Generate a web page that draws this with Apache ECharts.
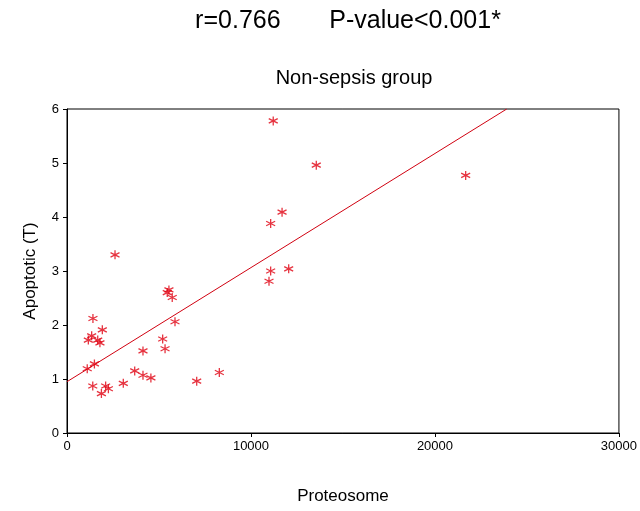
<!DOCTYPE html>
<html>
<head>
<meta charset="utf-8">
<script src="https://cdn.jsdelivr.net/npm/echarts@6/dist/echarts.min.js"></script>
<style>
  html, body { margin: 0; padding: 0; background: #fff; }
  #chart { width: 640px; height: 511px; }
</style>
</head>
<body>
<div id="chart"></div>
<script>
// 数据：从图中读取
var proteosome = [2610, 11070, 10980, 12050, 5540, 5450, 5720, 5870, 1410, 1920,
  1340, 1160, 1670, 1790, 5200, 5330, 4130, 1490, 1100, 3680,
  4130, 4560, 8280, 7050, 3060, 1400, 2100, 2250, 1870, 11210,
  13550, 11690, 11070, 21670];
var apoptotic = [3.30, 3.00, 2.81, 3.04, 2.65, 2.60, 2.51, 2.06, 2.12, 1.91,
  1.80, 1.72, 1.72, 1.67, 1.74, 1.56, 1.52, 1.28, 1.19, 1.15,
  1.07, 1.02, 1.12, 0.96, 0.92, 0.87, 0.87, 0.82, 0.73, 5.78,
  4.96, 4.09, 3.88, 4.77];
// 回归线两端
var fitX = [0, 23900];
var fitY = [0.95, 6];
var xTicks = [0, 10000, 20000, 30000];
var yTicks = [0, 1, 2, 3, 4, 5, 6];

var font = 'Liberation Sans, Arial, sans-serif';
var red = '#e00010';
var asterisk = 'path://M5,0L5,10M0.7,2.5L9.3,7.5M0.7,7.5L9.3,2.5';

var points = proteosome.map(function (v, i) { return [v, apoptotic[i]]; });
var line = fitX.map(function (v, i) { return [v, fitY[i]]; });

var myChart = echarts.init(document.getElementById('chart'));
var axisText = { color: '#000', fontFamily: font, fontSize: 13 };

var option = {
  backgroundColor: '#fff',
  animation: false,
  title: [{
    text: 'r=0.766       P-value<0.001*',
    left: 343, top: 4, textAlign: 'center',
    textStyle: { fontFamily: font, fontSize: 25, fontWeight: 'normal', color: '#000' }
  }, {
    text: 'Non-sepsis group',
    left: 349, top: 63, textAlign: 'center',
    textStyle: { fontFamily: font, fontSize: 20, fontWeight: 'normal', color: '#000' }
  }],
  grid: { left: 67, right: 21, top: 109, bottom: 78, show: true, borderColor: '#000', borderWidth: 1 },
  xAxis: {
    type: 'value', min: 0, max: 30000, interval: 10000,
    name: 'Proteosome', nameLocation: 'middle', nameGap: 55,
    nameTextStyle: { fontFamily: font, fontSize: 17, color: '#000' },
    axisLine: { show: true, onZero: false, lineStyle: { color: '#000' } },
    axisTick: { show: true, length: 4, lineStyle: { color: '#000' } },
    axisLabel: Object.assign({ margin: 7, formatter: function (v) { return xTicks.indexOf(v) >= 0 ? String(v) : ''; } }, axisText),
    splitLine: { show: false }
  },
  yAxis: {
    type: 'value', min: 0, max: 6, interval: 1,
    name: 'Apoptotic (T)', nameLocation: 'middle', nameGap: 28,
    nameTextStyle: { fontFamily: font, fontSize: 17, color: '#000' },
    axisLine: { show: true, onZero: false, lineStyle: { color: '#000' } },
    axisTick: { show: true, length: 4, lineStyle: { color: '#000' } },
    axisLabel: Object.assign({ margin: 8, formatter: function (v) { return yTicks.indexOf(v) >= 0 ? String(v) : ''; } }, axisText),
    splitLine: { show: false }
  },
  series: [{
    type: 'line',
    data: line,
    symbol: 'none',
    lineStyle: { color: '#d00010', width: 1 },
    silent: true,
    z: 1
  }, {
    type: 'scatter',
    data: points,
    symbol: asterisk,
    symbolSize: 9,
    itemStyle: { color: 'none', borderColor: red, borderWidth: 1.3 },
    z: 2
  }]
};

myChart.setOption(option);
</script>
</body>
</html>
